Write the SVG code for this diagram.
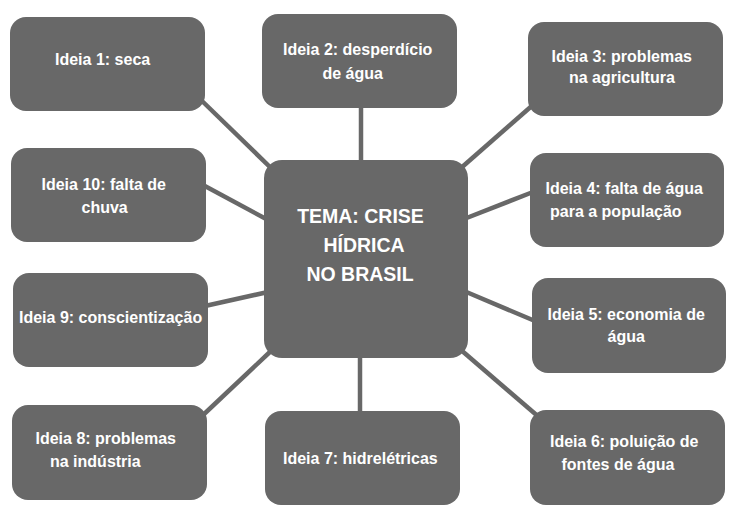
<svg xmlns="http://www.w3.org/2000/svg" width="736" height="518" viewBox="0 0 736 518">
<style>
.box{fill:#686868}
.t{fill:#ffffff;font-family:"Liberation Sans",Arial,sans-serif;font-weight:bold;font-size:16px}
.c{fill:#ffffff;font-family:"Liberation Sans",Arial,sans-serif;font-weight:bold;font-size:19.5px;text-anchor:middle}
.ln{stroke:#686868;stroke-width:4.5;fill:none}
</style>
<rect width="736" height="518" fill="#ffffff"/>
<g id="connectors">
<line class="ln" x1="200" y1="99" x2="272" y2="169"/>
<line class="ln" x1="361" y1="105" x2="361" y2="163"/>
<line class="ln" x1="534" y1="104" x2="461" y2="168"/>
<line class="ln" x1="203" y1="185" x2="268" y2="220"/>
<line class="ln" x1="533" y1="192" x2="464" y2="219"/>
<line class="ln" x1="205" y1="306" x2="268" y2="292"/>
<line class="ln" x1="535" y1="321" x2="464" y2="291"/>
<line class="ln" x1="202" y1="416" x2="272" y2="350"/>
<line class="ln" x1="360" y1="355" x2="360" y2="414"/>
<line class="ln" x1="540" y1="418" x2="461" y2="350"/>
</g>
<g id="center">
<rect class="box" x="264" y="160" width="204" height="198" rx="18"/>
<text class="c" x="360.5" y="223">TEMA: CRISE</text>
<text class="c" x="364" y="252">HÍDRICA</text>
<text class="c" x="360" y="281">NO BRASIL</text>
</g>
<g id="ideia1">
<rect class="box" x="10" y="17" width="195" height="94" rx="16"/>
<text class="t" x="55" y="65">Ideia 1: seca</text>
</g>
<g id="ideia2">
<rect class="box" x="262" y="14" width="195" height="94" rx="16"/>
<text class="t" x="283" y="55">Ideia 2: desperdício</text>
<text class="t" x="322.5" y="79">de água</text>
</g>
<g id="ideia3">
<rect class="box" x="528" y="22" width="195" height="94" rx="16"/>
<text class="t" x="551.5" y="61.5">Ideia 3: problemas</text>
<text class="t" x="569" y="83">na agricultura</text>
</g>
<g id="ideia4">
<rect class="box" x="530" y="153" width="194" height="94" rx="16"/>
<text class="t" x="545.5" y="194">Ideia 4: falta de água</text>
<text class="t" x="550" y="217">para a população</text>
</g>
<g id="ideia5">
<rect class="box" x="532" y="278" width="194" height="95" rx="16"/>
<text class="t" x="547.5" y="320">Ideia 5: economia de</text>
<text class="t" x="607.5" y="342">água</text>
</g>
<g id="ideia6">
<rect class="box" x="530" y="410" width="195" height="95" rx="16"/>
<text class="t" x="550" y="446.5">Ideia 6: poluição de</text>
<text class="t" x="561.5" y="470">fontes de água</text>
</g>
<g id="ideia7">
<rect class="box" x="265" y="411" width="195" height="94" rx="16"/>
<text class="t" x="283" y="464">Ideia 7: hidrelétricas</text>
</g>
<g id="ideia8">
<rect class="box" x="12" y="405" width="195" height="95" rx="16"/>
<text class="t" x="35.5" y="444">Ideia 8: problemas</text>
<text class="t" x="50" y="467">na indústria</text>
</g>
<g id="ideia9">
<rect class="box" x="13" y="273" width="195" height="94" rx="16"/>
<text class="t" x="19" y="323">Ideia 9: conscientização</text>
</g>
<g id="ideia10">
<rect class="box" x="11" y="148" width="195" height="94" rx="16"/>
<text class="t" x="41.5" y="190">Ideia 10: falta de</text>
<text class="t" x="81.5" y="213">chuva</text>
</g>
</svg>
